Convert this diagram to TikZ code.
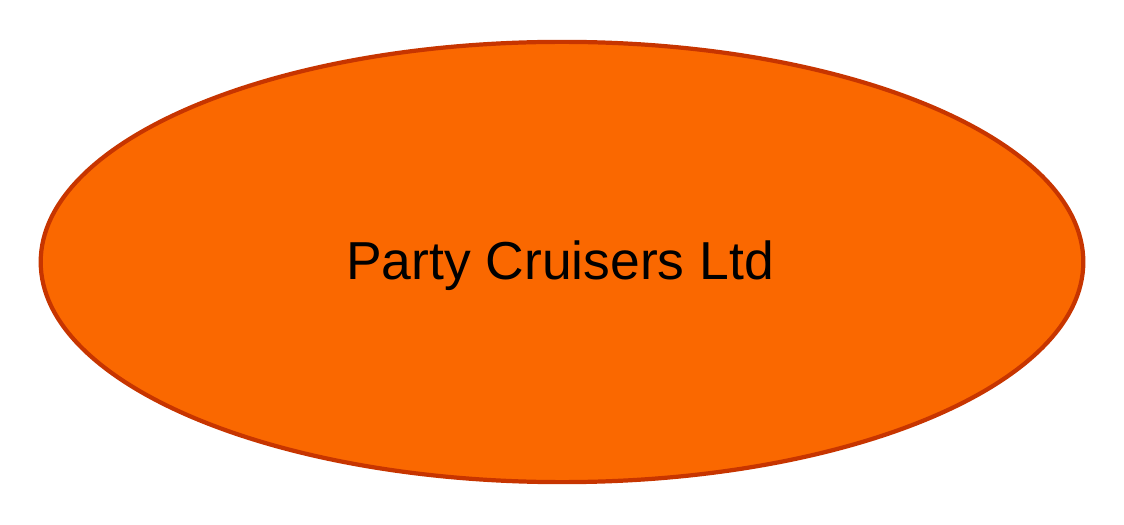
\documentclass[tikz,border=0pt]{standalone}
\usepackage{fontspec}
\setmainfont{Liberation Sans}
\usetikzlibrary{shapes.geometric}
\definecolor{cruiseorange}{HTML}{FA6800}
\definecolor{cruiseedge}{HTML}{C73500}
\begin{document}
\begin{tikzpicture}[x=0.01cm,y=0.01cm]
    % Canvas
    \useasboundingbox (0,0) rectangle (1124,524);
    % Entity ellipse
    \node[ellipse, draw=cruiseedge, line width=1.2pt, fill=cruiseorange,
          minimum width=10.42cm, minimum height=4.40cm, inner sep=0pt] (company) at (562,262) {};
    \node[font=\fontsize{15.2pt}{18pt}\selectfont] (companyname) at (560,258.5) {Party Cruisers Ltd};
\end{tikzpicture}
\end{document}
